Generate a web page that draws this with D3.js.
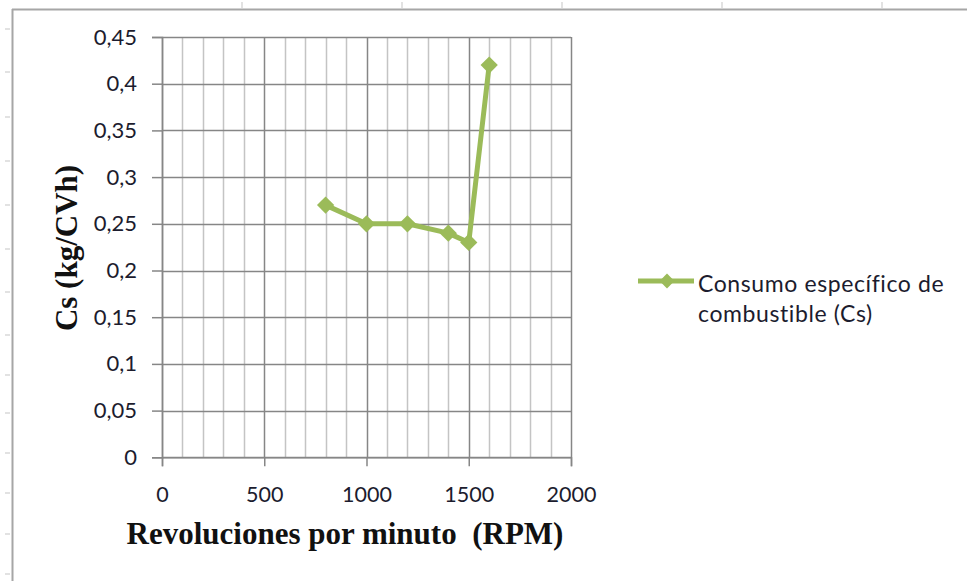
<!DOCTYPE html>
<html><head><meta charset="utf-8">
<script src="https://cdn.jsdelivr.net/npm/d3@7"></script>
<style>body{margin:0;background:#fff}svg{display:block}</style>
</head><body>
<script>
const rpm = [800, 1000, 1200, 1400, 1500, 1600];
const cs = [0.27, 0.25, 0.25, 0.24, 0.23, 0.42];
const xTicks = [0, 500, 1000, 1500, 2000];
const yTicks = [0, 0.05, 0.1, 0.15, 0.2, 0.25, 0.3, 0.35, 0.4, 0.45];
const seriesName = ["Consumo específico de", "combustible (Cs)"];
const xTitle = "Revoluciones por minuto  (RPM)";
const yTitle = "Cs (kg/CVh)";

const W = 967, H = 581;
const svg = d3.select("body").append("svg").attr("width", W).attr("height", H);
const green = "#9bbb59";
const fontUI = "Lato, 'Open Sans', sans-serif";
const fontSerif = "'Liberation Serif', 'Times New Roman', serif";
const txt = "#1c1c2e";

// Outer frame (spreadsheet chart border)
svg.append("line").attr("x1", 12).attr("x2", W).attr("y1", 9.5).attr("y2", 9.5).attr("stroke", "#a6a6a6").attr("stroke-width", 2);
svg.append("line").attr("x1", 12.5).attr("x2", 12.5).attr("y1", 9).attr("y2", H).attr("stroke", "#a6a6a6").attr("stroke-width", 2);
[242, 402, 562, 722, 882].forEach(v => svg.append("line").attr("x1", v).attr("x2", v).attr("y1", 2).attr("y2", 8).attr("stroke", "#d9d9d9").attr("stroke-width", 1.5));
[29, 72, 117, 161, 205, 249, 292, 335, 375, 413, 453, 493, 534, 574].forEach(v => svg.append("line").attr("x1", 5).attr("x2", 10).attr("y1", v).attr("y2", v).attr("stroke", "#d9d9d9").attr("stroke-width", 1.5));

const x = d3.scaleLinear().domain([0, 2000]).range([162, 571]);
const y = d3.scaleLinear().domain([0, 0.45]).range([457.3, 37]);

const g = svg.append("g");
d3.range(0, 2001, 100).forEach(v => {
  const major = v % 500 === 0;
  g.append("line").attr("x1", Math.round(x(v)) + 0.5).attr("x2", Math.round(x(v)) + 0.5)
    .attr("y1", y(0.45)).attr("y2", y(0))
    .attr("stroke", major ? "#868686" : "#c4c4c4").attr("stroke-width", 1.5);
});
yTicks.forEach(v => {
  g.append("line").attr("x1", x(0)).attr("x2", x(2000))
    .attr("y1", Math.round(y(v)) + 0.5).attr("y2", Math.round(y(v)) + 0.5)
    .attr("stroke", "#868686").attr("stroke-width", 1.5);
});

const yAxis = d3.axisLeft(y).tickValues(yTicks).tickSize(10).tickPadding(15)
  .tickFormat(d => d3.format("~g")(d).replace(".", ","));
const ya = svg.append("g").attr("transform", `translate(${x(0)},0)`).call(yAxis);
ya.select(".domain").attr("stroke", "#868686").attr("stroke-width", 1.5);
ya.selectAll(".tick line").attr("stroke", "#868686").attr("stroke-width", 1.5);
ya.selectAll("text").attr("font-family", fontUI).attr("font-size", 22).attr("fill", txt);

const xAxis = d3.axisBottom(x).tickValues(xTicks).tickSize(9).tickPadding(20).tickFormat(d3.format("d"));
const xa = svg.append("g").attr("transform", `translate(0,${y(0)})`).call(xAxis);
xa.select(".domain").attr("stroke", "#868686").attr("stroke-width", 1.5);
xa.selectAll(".tick line").attr("stroke", "#868686").attr("stroke-width", 1.5);
xa.selectAll("text").attr("font-family", fontUI).attr("font-size", 21.5).attr("fill", txt);

const data = rpm.map((r, i) => ({r, c: cs[i]}));
svg.append("path").datum(data)
  .attr("d", d3.line().x(d => x(d.r)).y(d => y(d.c)))
  .attr("fill", "none").attr("stroke", green).attr("stroke-width", 5).attr("stroke-linejoin", "round");
const diamond = d3.symbol().type(d3.symbolDiamond2).size(190);
svg.selectAll(".pt").data(data).enter().append("path")
  .attr("transform", d => `translate(${x(d.r)},${y(d.c)})`)
  .attr("d", diamond).attr("fill", green);

svg.append("text").attr("x", 345).attr("y", 544).attr("text-anchor", "middle")
  .style("white-space", "pre")
  .attr("font-family", fontSerif).attr("font-weight", "bold")
  .attr("font-size", 31).attr("fill", "#111").text(xTitle);
svg.append("text").attr("transform", "translate(77,248) rotate(-90)").attr("text-anchor", "middle")
  .attr("font-family", fontSerif).attr("font-weight", "bold")
  .attr("font-size", 31).attr("fill", "#111").text(yTitle);

// legend
svg.append("line").attr("x1", 638).attr("x2", 694).attr("y1", 281).attr("y2", 281).attr("stroke", green).attr("stroke-width", 5);
svg.append("path").attr("transform", "translate(667,281)").attr("d", d3.symbol().type(d3.symbolDiamond2).size(140)).attr("fill", green);
seriesName.forEach((t, i) => svg.append("text").attr("x", 698).attr("y", 292 + i * 30)
  .attr("font-family", fontUI).attr("font-size", 23).attr("letter-spacing", 0.6).attr("fill", txt).text(t));
</script>
</body></html>
